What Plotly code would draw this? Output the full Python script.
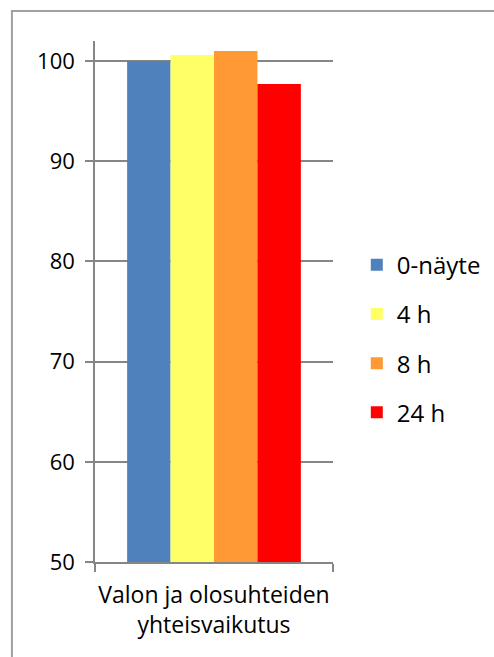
import plotly.graph_objects as go

# Data
category = ["Valon ja olosuhteiden<br>yhteisvaikutus"]
series_names = ["0-näyte", "4 h", "8 h", "24 h"]
series_values = [[100.0], [100.6], [101.0], [97.7]]
series_colors = ["#4f81bd", "#ffff66", "#ff9933", "#ff0000"]
y_ticks = [50, 60, 70, 80, 90, 100]

FONT = "Open Sans"
GRID = "#868686"

fig = go.Figure()
for i, (name, vals, col) in enumerate(zip(series_names, series_values, series_colors)):
    fig.add_trace(go.Bar(
        x=category, y=vals, name=name,
        marker=dict(color=col, line=dict(width=0)),
        legendgroup=f"g{i}",
    ))

fig.update_layout(
    width=494, height=657,
    margin=dict(l=95, r=161, t=41, b=95, autoexpand=False),
    paper_bgcolor="white", plot_bgcolor="white",
    barmode="group", bargap=0.27, bargroupgap=0,
    font=dict(family=FONT, size=23, color="#000000"),
    showlegend=True,
    legend=dict(
        x=1.10, y=0.613, xanchor="left", yanchor="top",
        traceorder="grouped", tracegroupgap=15,
        font=dict(family=FONT, size=24, color="#000000"),
        bgcolor="rgba(0,0,0,0)", borderwidth=0,
    ),
    xaxis=dict(
        showgrid=False, showline=True, linecolor=GRID, linewidth=1.5,
        ticks="outside", ticklen=8, tickcolor=GRID, tickwidth=1.5,
        tickson="boundaries", ticklabelstandoff=12, tickangle=0,
        automargin=False,
        tickfont=dict(family=FONT, size=23),
    ),
    yaxis=dict(
        range=[50, 102], tickvals=y_ticks,
        showgrid=True, gridcolor=GRID, gridwidth=1.5,
        showline=True, linecolor=GRID, linewidth=1.5,
        ticks="outside", ticklen=8, tickcolor=GRID, tickwidth=1.5,
        ticklabelstandoff=6, zeroline=False, automargin=False,
        tickfont=dict(family=FONT, size=22),
    ),
)

# Chart-area border
fig.add_shape(type="rect", xref="paper", yref="paper",
              x0=-0.349, x1=1.75, y0=-0.3, y1=1.0576,
              line=dict(color="#a0a0a0", width=2), layer="below")

fig.write_html("out.html")
